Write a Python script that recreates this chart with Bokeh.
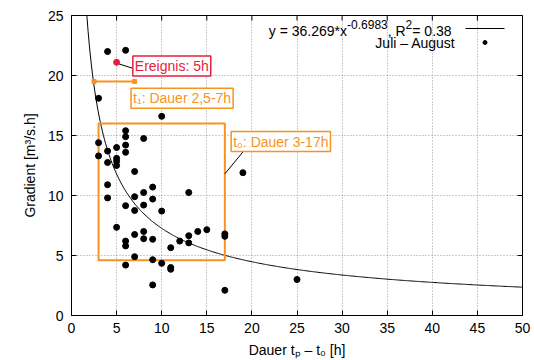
import numpy as np
from bokeh.plotting import figure
from bokeh.models import (Label, FixedTicker, Range1d)
from bokeh.embed import file_html
from bokeh.resources import INLINE

# ---------------- data ----------------
dauer = [4, 6, 3, 10, 6, 6, 8, 3, 5, 6, 6, 4, 3, 5, 5, 4, 5, 7, 19,
         4, 9, 8, 13, 4, 7, 9, 6, 8, 7, 10, 5, 7, 8, 14, 15, 17, 17, 13,
         8, 9, 6, 6, 12, 13, 11, 7, 9, 10, 11, 11, 6, 9, 17, 25]
gradient = [22.0, 22.1, 18.1, 16.6, 15.4, 14.9, 14.75, 14.4, 14.0, 14.2, 13.6, 13.7, 13.3, 13.1, 12.85, 12.75, 12.5, 12.0, 11.9,
            10.9, 10.7, 10.25, 10.25, 9.8, 9.9, 9.7, 9.15, 9.2, 8.75, 8.7, 7.35, 6.75, 7.0, 7.0, 7.15, 6.8, 6.6, 6.65,
            6.4, 6.35, 6.2, 5.8, 6.2, 6.05, 5.65, 4.9, 4.65, 4.35, 4.0, 3.85, 4.2, 2.55, 2.1, 3.0]
event_x = [5]
event_y = [21.1]

fit_a = 36.269
fit_b = -0.6983
fit_r2 = 0.38

t1_range = [2.5, 7.0]
t1_level = 19.5
t0_box = dict(left=3, right=17, bottom=4.6, top=16)

x_ticks = [0, 5, 10, 15, 20, 25, 30, 35, 40, 45, 50]
y_ticks = [0, 5, 10, 15, 20, 25]

RED = "#e61e3c"
ORANGE = "#f7931e"
FONT = "Liberation Sans"
FS_PX = 14
FS = f"{FS_PX}px"
SUP_PX = 12

X0, X1, Y0, Y1 = 0, 50, 0, 25
FW, FH = 451, 300   # frame size in px

def px2x(px):   # frame-relative pixel -> data x
    return X0 + px / FW * (X1 - X0)

def py2y(py):   # pixels below frame top -> data y
    return Y1 - py / FH * (Y1 - Y0)

# Arial / Liberation Sans advance widths (per 1000 em)
ADV = {" ": 278, "y": 500, "=": 584, "0": 556, "1": 556, "2": 556, "3": 556, "4": 556, "5": 556,
       "6": 556, "7": 556, "8": 556, "9": 556, ".": 278, "*": 389, "x": 500, "-": 333, ",": 278, "R": 722}

def text_w(s, size):
    return sum(ADV.get(c, 556) for c in s) * size / 1000

# ---------------- figure ----------------
p = figure(width=534, height=360, output_backend="svg", toolbar_location=None,
           x_range=Range1d(X0, X1), y_range=Range1d(Y0, Y1),
           min_border_left=71, min_border_right=12, min_border_top=15, min_border_bottom=45)
p.outline_line_color = "black"
p.outline_line_width = 1
p.background_fill_color = "white"
p.border_fill_color = "white"

for ax, ticks in ((p.xaxis[0], x_ticks), (p.yaxis[0], y_ticks)):
    ax.ticker = FixedTicker(ticks=ticks)
    ax.major_tick_in = 5
    ax.major_tick_out = 0
    ax.minor_tick_line_color = None
    ax.axis_line_color = "black"
    ax.major_label_text_font = FONT
    ax.major_label_text_font_size = FS
    ax.major_label_text_color = "black"
    ax.axis_label_text_font = FONT
    ax.axis_label_text_font_size = FS
    ax.axis_label_text_font_style = "normal"
    ax.axis_label_text_color = "black"

p.xaxis[0].axis_label = "Dauer tₚ – t₀ [h]"
p.xaxis[0].major_label_standoff = 7
p.xaxis[0].axis_label_standoff = 6
p.yaxis[0].axis_label = "Gradient [m³/s.h]"
p.yaxis[0].major_label_standoff = 8
p.yaxis[0].axis_label_standoff = 7

for g, ticks in ((p.xgrid[0], x_ticks[1:-1]), (p.ygrid[0], y_ticks[1:-1])):
    g.ticker = FixedTicker(ticks=ticks)
    g.grid_line_color = "#9a9a9a"
    g.grid_line_dash = "1 2"
    g.grid_line_width = 1

# mirrored tick marks on top and right (5 px long)
tick_dy = Y1 - py2y(5)
tick_dx = px2x(5) - X0
p.segment(x0=x_ticks, y0=[Y1] * len(x_ticks), x1=x_ticks, y1=[Y1 - tick_dy] * len(x_ticks),
          line_color="black", line_width=1)
p.segment(x0=[X1] * len(y_ticks), y0=y_ticks, x1=[X1 - tick_dx] * len(y_ticks), y1=y_ticks,
          line_color="black", line_width=1)

# fit curve
xc = np.linspace(1.6, 50, 400)
yc = fit_a * xc ** fit_b
p.line(xc, yc, line_color="black", line_width=1)

# t0 box and t1 range
p.quad(left=[t0_box["left"]], right=[t0_box["right"]], bottom=[t0_box["bottom"]], top=[t0_box["top"]],
       fill_color=None, line_color=ORANGE, line_width=2)
p.line(t1_range, [t1_level, t1_level], line_color=ORANGE, line_width=2)
p.scatter(t1_range, [t1_level, t1_level], marker="square", size=4, color=ORANGE)

# connectors
p.segment(x0=[5.25, 17.0], y0=[20.97, 11.8], x1=[6.8, 19.3], y1=[20.6, 13.9],
          line_color="black", line_width=1)

# data points
p.scatter(dauer, gradient, size=6, color="black")
p.scatter(event_x, event_y, size=6, color=RED)

# labels with boxes
def boxed(x, y, text, color):
    lab = Label(x=x, y=y, text=text, text_font=FONT, text_font_size=FS, text_color=color,
                text_align="left", text_baseline="middle",
                background_fill_color="white", border_line_color=color, border_line_width=1.5,
                padding=2)
    p.add_layout(lab)

boxed(6.8, 20.8, "Ereignis: 5h", RED)
boxed(6.6, 18.1, "t₁: Dauer 2,5-7h", ORANGE)
boxed(17.7, 14.5, "t₀: Dauer 3-17h", ORANGE)

# key (gnuplot style: text right-aligned, sample to its right)
KEY_TEXT_RIGHT = 384          # px from frame left
KEY_TEXT1 = 15                # centre of row-1 text, px below frame top
KEY_ROW1, KEY_ROW2 = 13, 27   # sample rows, px below frame top
KEY_SAMPLE = (394, 433)       # px from frame left
SUP_RAISE = 6

pieces = [(f"y = {fit_a}*x", FS_PX, 0), (f"{fit_b}", SUP_PX, SUP_RAISE),
          (", R", FS_PX, 0), ("2", SUP_PX, SUP_RAISE), (f" = {fit_r2}", FS_PX, 0)]
total = sum(text_w(t, s) for t, s, _ in pieces)
cx = KEY_TEXT_RIGHT - total
for t, s, r in pieces:
    p.add_layout(Label(x=cx, y=FH - KEY_TEXT1 + r, x_units="screen", y_units="screen",
                       text=t, text_font=FONT, text_font_size=f"{s}px",
                       text_align="left", text_baseline="middle", text_color="black"))
    cx += text_w(t, s)

p.add_layout(Label(x=KEY_TEXT_RIGHT, y=FH - KEY_ROW2, x_units="screen", y_units="screen",
                   text="Juli – August", text_font=FONT, text_font_size=FS,
                   text_align="right", text_baseline="middle", text_color="black"))
p.line([px2x(KEY_SAMPLE[0]), px2x(KEY_SAMPLE[1])], [py2y(KEY_ROW1)] * 2, line_color="black", line_width=1)
p.scatter([px2x(sum(KEY_SAMPLE) / 2)], [py2y(KEY_ROW2)], size=4, color="black")

open("out.html", "w").write(file_html(p, INLINE))
